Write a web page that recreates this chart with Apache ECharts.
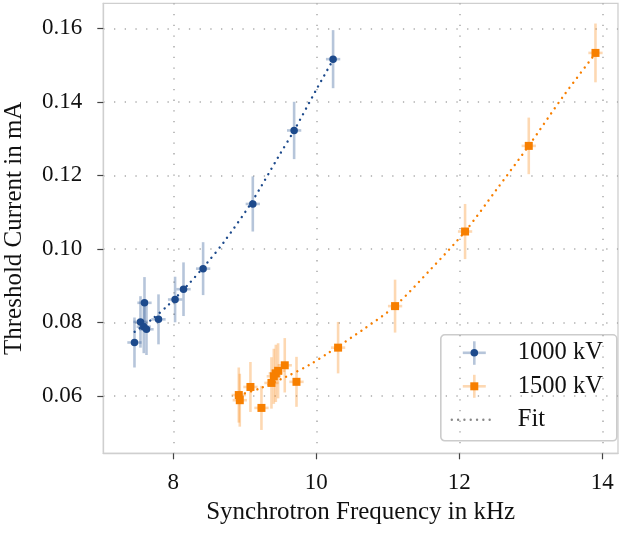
<!DOCTYPE html>
<html>
<head>
<meta charset="utf-8">
<script src="https://cdn.jsdelivr.net/npm/echarts@6.0.0/dist/echarts.min.js"></script>
<style>
html, body { margin: 0; padding: 0; background: #fff; }
#chart { width: 625px; height: 534px; }
</style>
</head>
<body>
<div id="chart"></div>
<script>
// 1000 kV measurements
const freq1000 = [7.457, 7.541, 7.587, 7.597, 7.625, 7.793, 8.025, 8.143, 8.417, 9.112, 9.690, 10.235]
const curr1000 = [0.0745, 0.0801, 0.0788, 0.0853, 0.0781, 0.0808, 0.0862, 0.0890, 0.0946, 0.1122, 0.1322, 0.1516]
const currErr1000 = [0.0068, 0.0070, 0.0072, 0.0070, 0.0070, 0.0068, 0.0062, 0.0073, 0.0072, 0.0075, 0.0078, 0.0079]
const freqErr1000 = [0.1, 0.1, 0.1, 0.1, 0.1, 0.1, 0.1, 0.1, 0.1, 0.1, 0.1, 0.1]

// 1500 kV measurements
const freq1500 = [8.916, 8.930, 9.079, 9.233, 9.373, 9.406, 9.434, 9.466, 9.559, 9.723, 10.305, 11.102, 12.081, 12.972, 13.905]
const curr1500 = [0.0602, 0.0588, 0.0624, 0.0567, 0.0635, 0.0653, 0.0661, 0.0668, 0.0683, 0.0638, 0.0731, 0.0844, 0.1047, 0.1280, 0.1533]
const currErr1500 = [0.0075, 0.0072, 0.0068, 0.0060, 0.0070, 0.0075, 0.0078, 0.0075, 0.0074, 0.0068, 0.0070, 0.0072, 0.0075, 0.0077, 0.0080]
const freqErr1500 = [0.1, 0.1, 0.1, 0.1, 0.1, 0.1, 0.1, 0.1, 0.1, 0.1, 0.1, 0.1, 0.1, 0.1, 0.1]

// fit curves
const fitFreq1000 = [7.46, 7.70, 7.93, 8.21, 8.47, 8.71, 9.08, 9.49, 9.69, 10.00, 10.24]
const fitCurr1000 = [0.0774, 0.0808, 0.0847, 0.0903, 0.0961, 0.1019, 0.1122, 0.1257, 0.1322, 0.1433, 0.1516]
const fitFreq1500 = [8.92, 9.21, 9.58, 9.91, 10.17, 10.66, 11.10, 11.59, 12.08, 12.52, 12.97, 13.45, 13.91]
const fitCurr1500 = [0.0602, 0.0620, 0.0652, 0.0685, 0.0717, 0.0781, 0.0844, 0.0942, 0.1047, 0.1161, 0.1280, 0.1414, 0.1533]

const xTicks = [8, 10, 12, 14]
const yTicks = [0.06, 0.08, 0.10, 0.12, 0.14, 0.16]
const legendNames = ['1000 kV', '1500 kV', 'Fit']

const BLUE = '#1d4a8c'
const BLUE_LIGHT = 'rgba(29,74,140,0.32)'
const ORANGE = '#f77f00'
const ORANGE_LIGHT = 'rgba(247,127,0,0.3)'
const FONT = 'Liberation Serif'
const GRID_DOTS = { color: '#ababab', width: 1.5, type: [1.3, 9.4] }

const zip = (a, b) => a.map((v, i) => [v, b[i]])

const errorBars = (fs, cs, fErr, cErr, color) => ({
    type: 'custom',
    silent: true,
    z: 1,
    data: fs.map((f, i) => [f, cs[i], fErr[i], cErr[i]]),
    encode: { x: 0, y: 1 },
    renderItem: (params, api) => {
        const f = api.value(0), c = api.value(1), df = api.value(2), dc = api.value(3)
        const top = api.coord([f, c + dc]), bot = api.coord([f, c - dc])
        const lft = api.coord([f - df, c]), rgt = api.coord([f + df, c])
        const style = { stroke: color, lineWidth: 2.6 }
        return {
            type: 'group',
            children: [
                { type: 'line', shape: { x1: top[0], y1: top[1], x2: bot[0], y2: bot[1] }, style },
                { type: 'line', shape: { x1: lft[0], y1: lft[1], x2: rgt[0], y2: rgt[1] }, style }
            ]
        }
    }
})

const fitLine = (fs, cs, color) => ({
    type: 'line',
    data: zip(fs, cs),
    smooth: 0.3,
    showSymbol: false,
    silent: true,
    z: 2,
    lineStyle: { color: color, width: 2.4, type: [0.01, 6.3], cap: 'round' }
})

const chart = echarts.init(document.getElementById('chart'))

const option = {
    animation: false,
    textStyle: { fontFamily: FONT },
    grid: {
        left: 103.3, right: 7, top: 3.3, bottom: 80.7,
        outerBoundsMode: 'none', containLabel: false,
        show: true, borderColor: '#cfcfcf', borderWidth: 1.3
    },
    xAxis: {
        type: 'value',
        min: 7.021,
        max: 14.22,
        name: 'Synchrotron Frequency in kHz',
        nameLocation: 'middle',
        nameGap: 47,
        nameTextStyle: { fontFamily: FONT, fontSize: 25, color: '#111' },
        axisLine: { show: true, lineStyle: { color: '#cfcfcf', width: 1.3 } },
        axisTick: { show: true, length: 6, customValues: xTicks, lineStyle: { color: '#444', width: 1.2 } },
        axisLabel: { customValues: xTicks, margin: 18, fontFamily: FONT, fontSize: 23, color: '#111' },
        splitLine: { show: true, lineStyle: GRID_DOTS }
    },
    yAxis: {
        type: 'value',
        min: 0.04435,
        max: 0.1668,
        name: 'Threshold Current in mA',
        nameLocation: 'middle',
        nameRotate: 90,
        nameGap: 76,
        nameTextStyle: { fontFamily: FONT, fontSize: 25, color: '#111' },
        axisLine: { show: true, lineStyle: { color: '#cfcfcf', width: 1.3 } },
        axisTick: { show: true, length: 6, customValues: yTicks, lineStyle: { color: '#444', width: 1.2 } },
        axisLabel: {
            customValues: yTicks, margin: 21, fontFamily: FONT, fontSize: 23, color: '#111',
            formatter: v => v.toFixed(2)
        },
        splitLine: { show: true, lineStyle: GRID_DOTS }
    },
    series: [
        errorBars(freq1000, curr1000, freqErr1000, currErr1000, BLUE_LIGHT),
        errorBars(freq1500, curr1500, freqErr1500, currErr1500, ORANGE_LIGHT),
        fitLine(fitFreq1000, fitCurr1000, BLUE),
        fitLine(fitFreq1500, fitCurr1500, ORANGE),
        {
            name: legendNames[0], type: 'scatter', z: 3, silent: true,
            data: zip(freq1000, curr1000), symbol: 'circle', symbolSize: 7.5,
            itemStyle: { color: BLUE, opacity: 1 }
        },
        {
            name: legendNames[1], type: 'scatter', z: 3, silent: true,
            data: zip(freq1500, curr1500), symbol: 'rect', symbolSize: 8,
            itemStyle: { color: ORANGE, opacity: 1 }
        }
    ],
    graphic: [{
        type: 'group', left: 440, top: 334, z: 100,
        children: [
            { type: 'rect', shape: { x: 0, y: 0, width: 176, height: 106, r: 4 },
              style: { fill: 'rgba(255,255,255,0.85)', stroke: '#cccccc', lineWidth: 1.6 } },
            // 1000 kV
            { type: 'line', shape: { x1: 22, y1: 18, x2: 45, y2: 18 }, style: { stroke: BLUE_LIGHT, lineWidth: 2.6 } },
            { type: 'line', shape: { x1: 33.5, y1: 6.5, x2: 33.5, y2: 30 }, style: { stroke: BLUE_LIGHT, lineWidth: 2.6 } },
            { type: 'circle', shape: { cx: 33.5, cy: 18, r: 3.8 }, style: { fill: BLUE } },
            { type: 'text', style: { x: 77, y: 18, text: legendNames[0], font: '24.5px "Liberation Serif"', fill: '#111', verticalAlign: 'middle' } },
            // 1500 kV
            { type: 'line', shape: { x1: 22, y1: 51.5, x2: 45, y2: 51.5 }, style: { stroke: ORANGE_LIGHT, lineWidth: 2.6 } },
            { type: 'line', shape: { x1: 33.5, y1: 40, x2: 33.5, y2: 63 }, style: { stroke: ORANGE_LIGHT, lineWidth: 2.6 } },
            { type: 'rect', shape: { x: 29.5, y: 47.5, width: 8, height: 8 }, style: { fill: ORANGE } },
            { type: 'text', style: { x: 77, y: 51.5, text: legendNames[1], font: '24.5px "Liberation Serif"', fill: '#111', verticalAlign: 'middle' } },
            // Fit
            { type: 'line', shape: { x1: 11, y1: 85, x2: 55, y2: 85 },
              style: { stroke: '#888', lineWidth: 2.4, lineDash: [0.01, 6.3], lineCap: 'round' } },
            { type: 'text', style: { x: 77, y: 85, text: legendNames[2], font: '24.5px "Liberation Serif"', fill: '#111', verticalAlign: 'middle' } }
        ]
    }]
}

chart.setOption(option)
</script>
</body>
</html>
